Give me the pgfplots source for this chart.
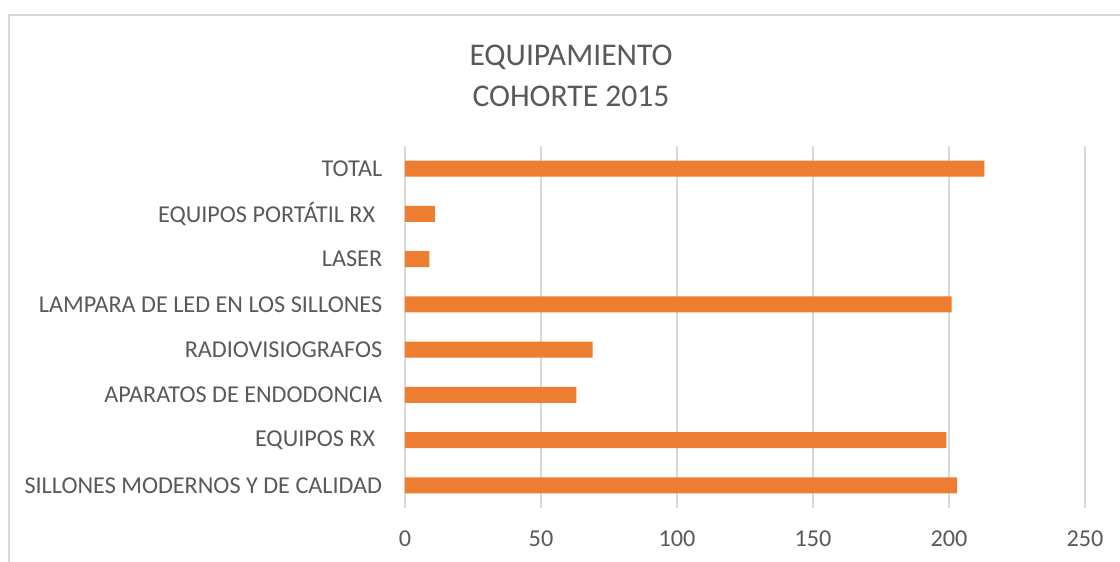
\documentclass[border=0pt]{standalone}
\usepackage{pgfplots}
\pgfplotsset{compat=1.18}
\usepackage{fontspec}
\setmainfont{Carlito}
\definecolor{barc}{HTML}{ED7D31}
\definecolor{txt}{HTML}{595959}
\definecolor{gridc}{HTML}{D9D9D9}
\begin{document}
\begin{tikzpicture}
\path[use as bounding box] (0pt,0pt) rectangle (1120pt,562pt);
\draw[gridc, line width=1.5pt] (9pt,0pt) -- (9pt,547pt) -- (1120pt,547pt);
\node[txt, font=\fontsize{31.6}{41}\selectfont, align=center] at (571pt,486pt) {EQUIPAMIENTO\\COHORTE 2015};
\begin{axis}[
  at={(405pt,54pt)}, anchor=south west, scale only axis,
  width=680pt, height=362pt,
  xbar, xmin=0, xmax=250, ymin=-0.5, ymax=7.5,
  xtick={0,50,...,250}, ytick={0,...,7},
  yticklabels={SILLONES MODERNOS Y DE CALIDAD,{EQUIPOS RX\kern7pt},APARATOS DE ENDODONCIA,RADIOVISIOGRAFOS,LAMPARA DE LED EN LOS SILLONES,LASER,{EQUIPOS PORTÁTIL RX\kern7pt},TOTAL},
  xmajorgrids, major grid style={gridc, line width=1.5pt},
  axis line style={draw=none}, tick style={draw=none},
  bar width=16pt,
  ticklabel style={txt, font=\fontsize{24.2}{28}\selectfont},
  /pgf/number format/assume math mode=true,
  xticklabel style={yshift=-19pt},
  yticklabel style={xshift=-15pt},
]
\addplot[fill=barc, draw=none] coordinates {
(203,0) (199,1) (63,2) (69,3) (201,4) (9,5) (11,6) (213,7)};
\end{axis}
\end{tikzpicture}
\end{document}
